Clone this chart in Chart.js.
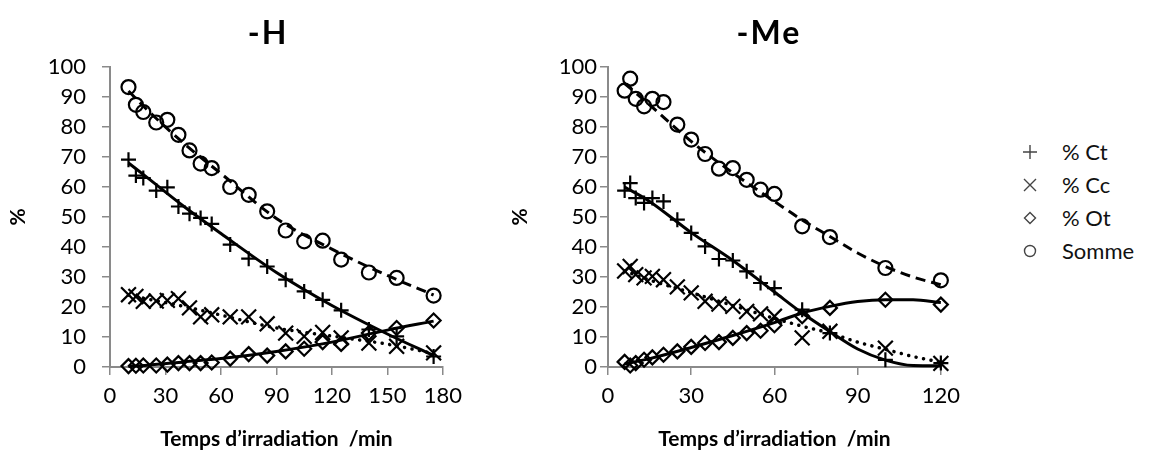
<!DOCTYPE html>
<html>
<head>
<meta charset="utf-8">
<script src="https://cdn.jsdelivr.net/npm/chart.js@4"></script>
<style>
  html, body { margin: 0; padding: 0; background: #fff; }
  #wrap { position: relative; width: 1155px; height: 455px; background: #fff; overflow: hidden; }
  canvas { position: absolute; top: 0; }
  .panel-title { position: absolute; top: 16px; font: bold 32px Lato, "Open Sans", sans-serif; line-height: 32px; color: #000; transform: translateX(-50%); white-space: nowrap; letter-spacing: 2px; }
  #legend { position: absolute; left: 1020px; top: 0; font: 22px Lato, "Open Sans", sans-serif; color: #111; }
  .row { position: absolute; left: 0; height: 22px; line-height: 22px; display: flex; align-items: center; white-space: nowrap; }
  .row svg { width: 20px; height: 20px; margin-right: 22px; }
</style>
</head>
<body>
<div id="wrap">
  <canvas id="chH" width="470" height="455" style="left:0px"></canvas>
  <canvas id="chMe" width="470" height="455" style="left:498px"></canvas>
  <div class="panel-title" style="left:268px">-H</div>
  <div class="panel-title" style="left:769px">-Me</div>
  <div id="legend">
    <div class="row" style="top:141px"><svg viewBox="0 0 20 20"><path d="M3 10H17M10 3V17" stroke="#444" stroke-width="1.4" fill="none"/></svg>% Ct</div>
    <div class="row" style="top:174px"><svg viewBox="0 0 20 20"><path d="M4 4L16 16M16 4L4 16" stroke="#444" stroke-width="1.4" fill="none"/></svg>% Cc</div>
    <div class="row" style="top:207px"><svg viewBox="0 0 20 20"><path d="M10 4.5L15.5 10L10 15.5L4.5 10Z" stroke="#444" stroke-width="1.4" fill="none"/></svg>% Ot</div>
    <div class="row" style="top:240px"><svg viewBox="0 0 20 20"><circle cx="10" cy="10" r="5.5" stroke="#444" stroke-width="1.4" fill="none"/></svg>Somme</div>
  </div>
</div>
<script>
// ---- -H series (irradiation time in min, percentages) ----
const timeH  = [10, 14, 18, 25, 31, 37, 43, 49, 55, 65, 75, 85, 95, 105, 115, 125, 140, 155, 175];
const ctH    = [69.1, 63.8, 63, 58.8, 59.9, 53.5, 51.1, 49.7, 47.7, 40.8, 36.1, 33.5, 29.1, 25.2, 22.4, 18.9, 12.5, 10.2, 3.5];
const ccH    = [24.1, 23.5, 21.9, 22, 22.2, 22.8, 19.7, 16.7, 17.4, 16.7, 16.7, 14.4, 11.3, 10.2, 11.5, 9.7, 8, 6.9, 4.7];
const otH    = [0.3, 0.4, 0.5, 0.5, 0.8, 1.3, 1.3, 1.3, 1.5, 2.8, 4.3, 3.8, 5.2, 6.1, 8.3, 7.7, 11.3, 13, 15.5];
const sommeH = [93.3, 87.4, 85, 81.5, 82.4, 77.4, 72.2, 67.8, 66.3, 60, 57.4, 51.9, 45.5, 41.9, 42.1, 35.8, 31.5, 29.7, 23.8];

// trend curves for -H
const fitTimeH  = [10, 20, 40, 60, 90, 120, 150, 175];
const ctFitH    = [68, 63.2, 53.5, 44.5, 31.5, 20.5, 11, 3.8];
const ccFitH    = [24, 22.7, 20.2, 17.3, 13, 10.3, 7.6, 4.5];
const otFitH    = [0.2, 0.6, 1.7, 2.8, 5.2, 8.3, 12.3, 15.3];
const sommeFitH = [92, 85.8, 74.5, 64.5, 49.5, 39.3, 30.5, 24];

// ---- -Me series ----
const timeMe  = [6, 8, 10, 13, 16, 20, 25, 30, 35, 40, 45, 50, 55, 60, 70, 80, 100, 120];
const ctMe    = [58.8, 61.3, 56.3, 54.7, 56.3, 55.2, 49.1, 44.7, 40.2, 36, 35.5, 31.9, 28, 26.3, 19.1, 11.3, 2.4, 1.3];
const ccMe    = [32, 33.5, 30.8, 29.7, 30.2, 29.1, 26.7, 24.7, 21.9, 21, 20.2, 18.5, 17.7, 16.9, 9.7, 11.9, 6.3, 1.2];
const otMe    = [1.7, 0.5, 1.3, 2.4, 3.2, 4.1, 5.2, 6.7, 8, 8.3, 9.7, 11.3, 12.1, 13.9, 16.9, 19.7, 22.4, 20.8];
const sommeMe = [92.1, 96.1, 89.4, 86.9, 89.4, 88.3, 80.8, 75.8, 71, 66.1, 66.3, 62.4, 59.1, 57.7, 46.9, 43.3, 33, 28.9];

// trend curves for -Me
const fitTimeMe  = [6, 15, 30, 45, 60, 70, 80, 90, 100, 110, 120];
const ctFitMe    = [60, 55.2, 44.8, 35.5, 25, 18, 11.8, 6, 2.3, 0.5, 0.4];
const ccFitMe    = [32, 29, 24.8, 20.5, 16.2, 13.6, 11.3, 8.3, 5.9, 3.5, 1.6];
const otFitMe    = [1, 2.8, 6.5, 10.5, 14.8, 18, 20.2, 21.8, 22.4, 22.4, 21.5];
const sommeFitMe = [94.5, 87.4, 75.2, 64.7, 55.2, 49, 43.5, 38, 33.5, 30, 27.4];

// axis texts
const yTicksMax = 100;
const xTitle = 'Temps d\u2019irradiation  /min';
const yTitle = '%';

const FONT = 'Lato, "Open Sans", sans-serif';
const AXIS_GREY = '#8a8a8a';

function pts(xs, ys) { return xs.map((x, i) => ({ x: x, y: ys[i] })); }

function markers(label, xs, ys, style, radius) {
  return {
    label: label, data: pts(xs, ys), showLine: false, clip: false, order: 2,
    pointStyle: style, pointRadius: radius, pointHoverRadius: radius,
    pointBorderWidth: 2.2, pointBorderColor: '#000', pointBackgroundColor: 'rgba(0,0,0,0)',
    borderColor: '#000'
  };
}

function trend(xs, ys, dash, cap, width) {
  return {
    data: pts(xs, ys), showLine: true, clip: false, order: 1,
    pointRadius: 0, pointHoverRadius: 0,
    borderColor: '#000', borderWidth: width, borderDash: dash, borderCapStyle: cap,
    cubicInterpolationMode: 'monotone', fill: false
  };
}

function panel(id, xMax, sets, yTickPad, yTitlePad) {
  return new Chart(document.getElementById(id), {
    type: 'scatter',
    data: { datasets: sets },
    options: {
      responsive: false, animation: false, events: [], devicePixelRatio: 1,
      layout: { padding: { top: 67, right: 21, bottom: 0, left: 0 } },
      plugins: { legend: { display: false }, tooltip: { enabled: false }, title: { display: false } },
      scales: {
        x: {
          type: 'linear', min: 0, max: xMax,
          ticks: { stepSize: 30, color: '#000', font: { family: FONT, size: 22 }, padding: 8, maxRotation: 0 },
          grid: { drawOnChartArea: false, drawTicks: true, tickLength: 8, color: AXIS_GREY, lineWidth: 1.5 },
          border: { display: true, color: AXIS_GREY, width: 2 },
          title: { display: true, text: xTitle, color: '#000', font: { family: FONT, size: 21, weight: 'bold' }, padding: { top: 0, bottom: 3 } },
          afterFit: s => { s.height = 88; }
        },
        y: {
          min: 0, max: yTicksMax,
          ticks: { stepSize: 10, color: '#000', font: { family: FONT, size: 22 }, padding: yTickPad },
          grid: { drawOnChartArea: false, drawTicks: true, tickLength: 8, color: AXIS_GREY, lineWidth: 1.5 },
          border: { display: true, color: AXIS_GREY, width: 2 },
          title: { display: true, text: yTitle, color: '#000', font: { family: FONT, size: 21, weight: 'bold' }, padding: { top: yTitlePad, bottom: 0 } },
          afterFit: s => { s.width = 110; }
        }
      }
    }
  });
}

const DASHED = [10, 6];
const DOTTED = [0.1, 7.5];

panel('chH', 180, [
  trend(fitTimeH, sommeFitH, DASHED, 'butt', 3),
  trend(fitTimeH, ctFitH, [], 'butt', 3),
  trend(fitTimeH, ccFitH, DOTTED, 'round', 3.5),
  trend(fitTimeH, otFitH, [], 'butt', 3),
  markers('% Ct', timeH, ctH, 'cross', 7.5),
  markers('% Cc', timeH, ccH, 'crossRot', 10.5),
  markers('% Ot', timeH, otH, 'rectRot', 7),
  markers('Somme', timeH, sommeH, 'circle', 7)
], 16, 6);

panel('chMe', 120, [
  trend(fitTimeMe, sommeFitMe, DASHED, 'butt', 3),
  trend(fitTimeMe, ctFitMe, [], 'butt', 3),
  trend(fitTimeMe, ccFitMe, DOTTED, 'round', 3.5),
  trend(fitTimeMe, otFitMe, [], 'butt', 3),
  markers('% Ct', timeMe, ctMe, 'cross', 7.5),
  markers('% Cc', timeMe, ccMe, 'crossRot', 10.5),
  markers('% Ot', timeMe, otMe, 'rectRot', 7),
  markers('Somme', timeMe, sommeMe, 'circle', 7)
], 3, 10);
</script>
</body>
</html>
